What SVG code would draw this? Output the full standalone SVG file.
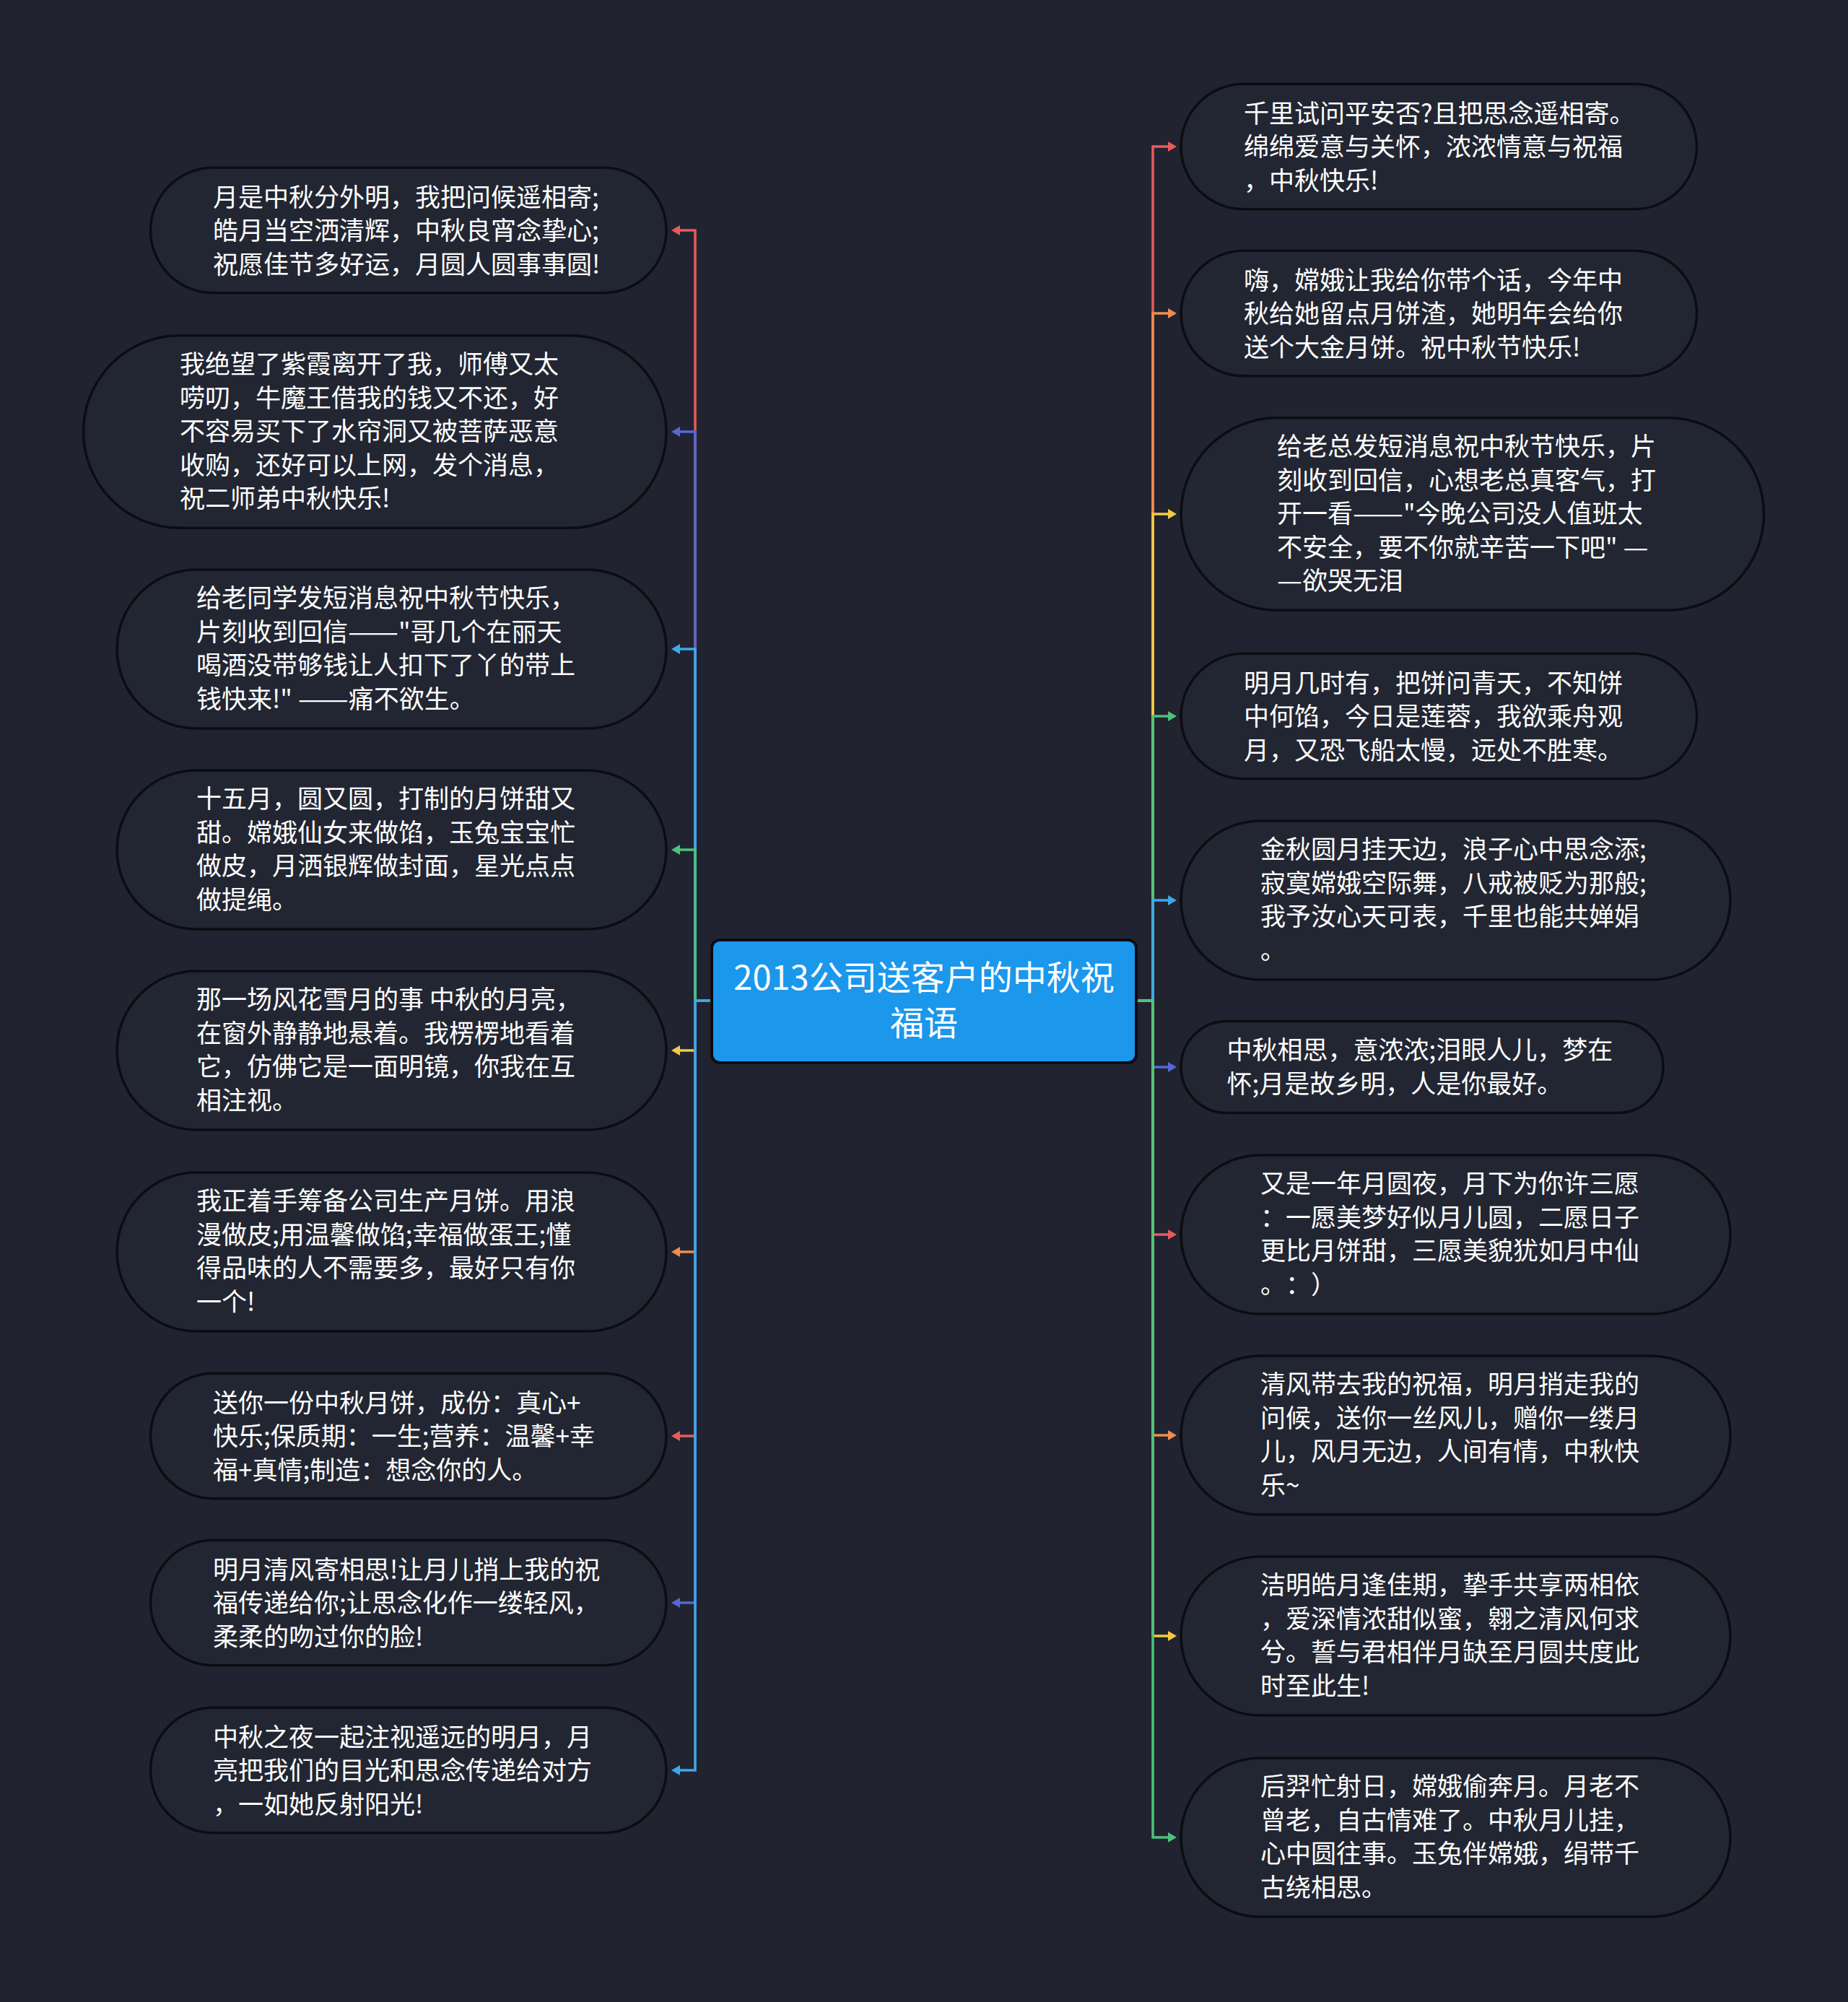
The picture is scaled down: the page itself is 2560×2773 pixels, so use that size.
<svg xmlns="http://www.w3.org/2000/svg" width="2560" height="2773" viewBox="0 0 2560 2773">
<defs>
<style>
.bg{fill:#212430}
.node{fill:#222632;stroke:#0c0d12;stroke-width:3.5}
.t{font-family:"Noto Sans CJK SC","Noto Sans",sans-serif;font-size:35px;fill:#ffffff;text-spacing-trim:space-all}
.ct{font-family:"Noto Sans CJK SC","Noto Sans",sans-serif;font-size:47px;fill:#ffffff;text-anchor:middle}
.c{fill:none;stroke-width:3.5;stroke-linejoin:miter;stroke-linecap:butt}
.red{stroke:#e95b5b}.ora{stroke:#f08d4f}.yel{stroke:#f6c944}.gre{stroke:#4cc27c}.sky{stroke:#3ca9e9}.ind{stroke:#5569d5}
</style>
<marker id="m-red" viewBox="0 0 12 14" refX="0" refY="7" markerWidth="12" markerHeight="14" markerUnits="userSpaceOnUse" orient="auto"><path d="M0,0 L12,7 L0,14 z" fill="#e95b5b"/></marker>
<marker id="m-ora" viewBox="0 0 12 14" refX="0" refY="7" markerWidth="12" markerHeight="14" markerUnits="userSpaceOnUse" orient="auto"><path d="M0,0 L12,7 L0,14 z" fill="#f08d4f"/></marker>
<marker id="m-yel" viewBox="0 0 12 14" refX="0" refY="7" markerWidth="12" markerHeight="14" markerUnits="userSpaceOnUse" orient="auto"><path d="M0,0 L12,7 L0,14 z" fill="#f6c944"/></marker>
<marker id="m-gre" viewBox="0 0 12 14" refX="0" refY="7" markerWidth="12" markerHeight="14" markerUnits="userSpaceOnUse" orient="auto"><path d="M0,0 L12,7 L0,14 z" fill="#4cc27c"/></marker>
<marker id="m-sky" viewBox="0 0 12 14" refX="0" refY="7" markerWidth="12" markerHeight="14" markerUnits="userSpaceOnUse" orient="auto"><path d="M0,0 L12,7 L0,14 z" fill="#3ca9e9"/></marker>
<marker id="m-ind" viewBox="0 0 12 14" refX="0" refY="7" markerWidth="12" markerHeight="14" markerUnits="userSpaceOnUse" orient="auto"><path d="M0,0 L12,7 L0,14 z" fill="#5569d5"/></marker>
</defs>
<rect class="bg" x="0" y="0" width="2560" height="2773"/>

<g id="connectors">
<path class="c red" d="M986,1386 H963 V319 H942" marker-end="url(#m-red)"/>
<path class="c ind" d="M986,1386 H963 V598 H942" marker-end="url(#m-ind)"/>
<path class="c sky" d="M986,1386 H963 V899 H942" marker-end="url(#m-sky)"/>
<path class="c gre" d="M986,1386 H963 V1177 H942" marker-end="url(#m-gre)"/>
<path class="c yel" d="M986,1386 H963 V1455 H942" marker-end="url(#m-yel)"/>
<path class="c ora" d="M986,1386 H963 V1734 H942" marker-end="url(#m-ora)"/>
<path class="c red" d="M986,1386 H963 V1989 H942" marker-end="url(#m-red)"/>
<path class="c ind" d="M986,1386 H963 V2220 H942" marker-end="url(#m-ind)"/>
<path class="c sky" d="M986,1386 H963 V2452 H942" marker-end="url(#m-sky)"/>
<path class="c red" d="M1574,1386 H1597 V203 H1618" marker-end="url(#m-red)"/>
<path class="c ora" d="M1574,1386 H1597 V434 H1618" marker-end="url(#m-ora)"/>
<path class="c yel" d="M1574,1386 H1597 V712 H1618" marker-end="url(#m-yel)"/>
<path class="c gre" d="M1574,1386 H1597 V992 H1618" marker-end="url(#m-gre)"/>
<path class="c sky" d="M1574,1386 H1597 V1247 H1618" marker-end="url(#m-sky)"/>
<path class="c ind" d="M1574,1386 H1597 V1478 H1618" marker-end="url(#m-ind)"/>
<path class="c red" d="M1574,1386 H1597 V1710 H1618" marker-end="url(#m-red)"/>
<path class="c ora" d="M1574,1386 H1597 V1988 H1618" marker-end="url(#m-ora)"/>
<path class="c yel" d="M1574,1386 H1597 V2266 H1618" marker-end="url(#m-yel)"/>
<path class="c gre" d="M1574,1386 H1597 V2545 H1618" marker-end="url(#m-gre)"/>
</g>

<g id="center">
<rect x="986" y="1302" width="588" height="170" rx="11" fill="#1b97ec" stroke="#0c0d12" stroke-width="4"/>
<text class="ct" x="1280" y="1371">2013公司送客户的中秋祝</text>
<text class="ct" x="1280" y="1434">福语</text>
</g>

<g id="L1">
<rect class="node" x="208.5" y="232.25" width="714.5" height="173.5" rx="86.75"/>
<text class="t" x="295" y="285.5">月是中秋分外明，我把问候遥相寄;</text>
<text class="t" x="295" y="332">皓月当空洒清辉，中秋良宵念挚心;</text>
<text class="t" x="295" y="378.5">祝愿佳节多好运，月圆人圆事事圆!</text>
</g>
<g id="L2">
<rect class="node" x="115.5" y="464.75" width="807.5" height="266.5" rx="133.25"/>
<text class="t" x="249" y="517">我绝望了紫霞离开了我，师傅又太</text>
<text class="t" x="249" y="563.5">唠叨，牛魔王借我的钱又不还，好</text>
<text class="t" x="249" y="610">不容易买下了水帘洞又被菩萨恶意</text>
<text class="t" x="249" y="656.5">收购，还好可以上网，发个消息，</text>
<text class="t" x="249" y="703">祝二师弟中秋快乐!</text>
</g>
<g id="L3">
<rect class="node" x="162" y="789" width="761" height="220" rx="110"/>
<text class="t" x="272" y="841.25">给老同学发短消息祝中秋节快乐，</text>
<text class="t" x="272" y="887.75">片刻收到回信<tspan textLength="70" lengthAdjust="spacingAndGlyphs">——</tspan>"哥几个在丽天</text>
<text class="t" x="272" y="934.25">喝酒没带够钱让人扣下了丫的带上</text>
<text class="t" x="272" y="980.75">钱快来!" <tspan textLength="70" lengthAdjust="spacingAndGlyphs">——</tspan>痛不欲生。</text>
</g>
<g id="L4">
<rect class="node" x="162" y="1067" width="761" height="220" rx="110"/>
<text class="t" x="272" y="1119.25">十五月，圆又圆，打制的月饼甜又</text>
<text class="t" x="272" y="1165.75">甜。嫦娥仙女来做馅，玉兔宝宝忙</text>
<text class="t" x="272" y="1212.25">做皮，月洒银辉做封面，星光点点</text>
<text class="t" x="272" y="1258.75">做提绳。</text>
</g>
<g id="L5">
<rect class="node" x="162" y="1345" width="761" height="220" rx="110"/>
<text class="t" x="272" y="1397.25">那一场风花雪月的事 中秋的月亮，</text>
<text class="t" x="272" y="1443.75">在窗外静静地悬着。我楞楞地看着</text>
<text class="t" x="272" y="1490.25">它，仿佛它是一面明镜，你我在互</text>
<text class="t" x="272" y="1536.75">相注视。</text>
</g>
<g id="L6">
<rect class="node" x="162" y="1624" width="761" height="220" rx="110"/>
<text class="t" x="272" y="1676.25">我正着手筹备公司生产月饼。用浪</text>
<text class="t" x="272" y="1722.75">漫做皮;用温馨做馅;幸福做蛋王;懂</text>
<text class="t" x="272" y="1769.25">得品味的人不需要多，最好只有你</text>
<text class="t" x="272" y="1815.75">一个!</text>
</g>
<g id="L7">
<rect class="node" x="208.5" y="1902.25" width="714.5" height="173.5" rx="86.75"/>
<text class="t" x="295" y="1955.5">送你一份中秋月饼，成份：真心+</text>
<text class="t" x="295" y="2002">快乐;保质期：一生;营养：温馨+幸</text>
<text class="t" x="295" y="2048.5">福+真情;制造：想念你的人。</text>
</g>
<g id="L8">
<rect class="node" x="208.5" y="2133.25" width="714.5" height="173.5" rx="86.75"/>
<text class="t" x="295" y="2186.5">明月清风寄相思!让月儿捎上我的祝</text>
<text class="t" x="295" y="2233">福传递给你;让思念化作一缕轻风，</text>
<text class="t" x="295" y="2279.5">柔柔的吻过你的脸!</text>
</g>
<g id="L9">
<rect class="node" x="208.5" y="2365.25" width="714.5" height="173.5" rx="86.75"/>
<text class="t" x="295" y="2418.5">中秋之夜一起注视遥远的明月，月</text>
<text class="t" x="295" y="2465">亮把我们的目光和思念传递给对方</text>
<text class="t" x="295" y="2511.5">，一如她反射阳光!</text>
</g>

<g id="R1">
<rect class="node" x="1636" y="116.25" width="714.5" height="173.5" rx="86.75"/>
<text class="t" x="1723" y="169.5">千里试问平安否?且把思念遥相寄。</text>
<text class="t" x="1723" y="216">绵绵爱意与关怀，浓浓情意与祝福</text>
<text class="t" x="1723" y="262.5">，中秋快乐!</text>
</g>
<g id="R2">
<rect class="node" x="1636" y="347.25" width="714.5" height="173.5" rx="86.75"/>
<text class="t" x="1723" y="400.5">嗨，嫦娥让我给你带个话，今年中</text>
<text class="t" x="1723" y="447">秋给她留点月饼渣，她明年会给你</text>
<text class="t" x="1723" y="493.5">送个大金月饼。祝中秋节快乐!</text>
</g>
<g id="R3">
<rect class="node" x="1636" y="578.75" width="807.5" height="266.5" rx="133.25"/>
<text class="t" x="1769" y="631">给老总发短消息祝中秋节快乐，片</text>
<text class="t" x="1769" y="677.5">刻收到回信，心想老总真客气，打</text>
<text class="t" x="1769" y="724">开一看<tspan textLength="70" lengthAdjust="spacingAndGlyphs">——</tspan>"今晚公司没人值班太</text>
<text class="t" x="1769" y="770.5">不安全，要不你就辛苦一下吧" <tspan textLength="35" lengthAdjust="spacingAndGlyphs">—</tspan></text>
<text class="t" x="1769" y="817"><tspan textLength="35" lengthAdjust="spacingAndGlyphs">—</tspan>欲哭无泪</text>
</g>
<g id="R4">
<rect class="node" x="1636" y="905.25" width="714.5" height="173.5" rx="86.75"/>
<text class="t" x="1723" y="958.5">明月几时有，把饼问青天，不知饼</text>
<text class="t" x="1723" y="1005">中何馅，今日是莲蓉，我欲乘舟观</text>
<text class="t" x="1723" y="1051.5">月，又恐飞船太慢，远处不胜寒。</text>
</g>
<g id="R5">
<rect class="node" x="1636" y="1137" width="761" height="220" rx="110"/>
<text class="t" x="1746" y="1189.25">金秋圆月挂天边，浪子心中思念添;</text>
<text class="t" x="1746" y="1235.75">寂寞嫦娥空际舞，八戒被贬为那般;</text>
<text class="t" x="1746" y="1282.25">我予汝心天可表，千里也能共婵娟</text>
<text class="t" x="1746" y="1328.75">。</text>
</g>
<g id="R6">
<rect class="node" x="1636" y="1414.5" width="668" height="127" rx="63.5"/>
<text class="t" x="1699.5" y="1467.25">中秋相思，意浓浓;泪眼人儿，梦在</text>
<text class="t" x="1699.5" y="1513.75">怀;月是故乡明，人是你最好。</text>
</g>
<g id="R7">
<rect class="node" x="1636" y="1600" width="761" height="220" rx="110"/>
<text class="t" x="1746" y="1652.25">又是一年月圆夜，月下为你许三愿</text>
<text class="t" x="1746" y="1698.75">：一愿美梦好似月儿圆，二愿日子</text>
<text class="t" x="1746" y="1745.25">更比月饼甜，三愿美貌犹如月中仙</text>
<text class="t" x="1746" y="1791.75">。：）</text>
</g>
<g id="R8">
<rect class="node" x="1636" y="1878" width="761" height="220" rx="110"/>
<text class="t" x="1746" y="1930.25">清风带去我的祝福，明月捎走我的</text>
<text class="t" x="1746" y="1976.75">问候，送你一丝风儿，赠你一缕月</text>
<text class="t" x="1746" y="2023.25">儿，风月无边，人间有情，中秋快</text>
<text class="t" x="1746" y="2069.75">乐~</text>
</g>
<g id="R9">
<rect class="node" x="1636" y="2156" width="761" height="220" rx="110"/>
<text class="t" x="1746" y="2208.25">洁明皓月逢佳期，挚手共享两相依</text>
<text class="t" x="1746" y="2254.75">，爱深情浓甜似蜜，翱之清风何求</text>
<text class="t" x="1746" y="2301.25">兮。誓与君相伴月缺至月圆共度此</text>
<text class="t" x="1746" y="2347.75">时至此生!</text>
</g>
<g id="R10">
<rect class="node" x="1636" y="2435" width="761" height="220" rx="110"/>
<text class="t" x="1746" y="2487.25">后羿忙射日，嫦娥偷奔月。月老不</text>
<text class="t" x="1746" y="2533.75">曾老，自古情难了。中秋月儿挂，</text>
<text class="t" x="1746" y="2580.25">心中圆往事。玉兔伴嫦娥，绢带千</text>
<text class="t" x="1746" y="2626.75">古绕相思。</text>
</g>
</svg>
